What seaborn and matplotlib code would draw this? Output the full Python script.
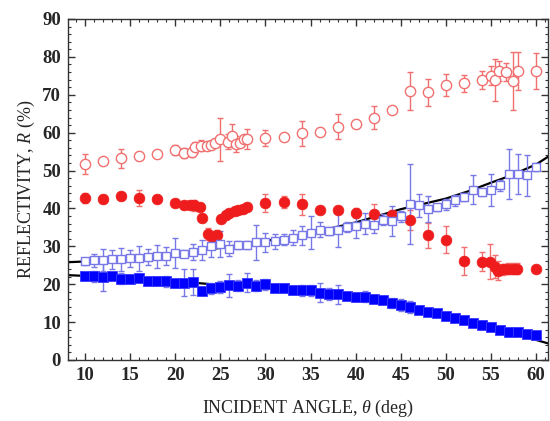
import numpy as np
import pandas as pd
import matplotlib
matplotlib.use("Agg")
import matplotlib.pyplot as plt
from matplotlib.ticker import MultipleLocator
import seaborn as sns

# ---------------- data ----------------
ro_x = [10, 12, 14, 16, 18, 20, 21, 21.8, 22.2, 22.9, 23.5, 24, 24.4, 25, 25.8, 26.3, 26.7, 27.2, 27.6, 28,
        30, 32, 34, 36, 38, 40, 42, 44, 46, 48, 50, 52, 54, 55, 55.4, 55.9, 56.7, 57.4, 58, 60]
ro_y = [51.8, 52.6, 53.2, 53.8, 54.4, 55.4, 54.6, 54.8, 56.1, 56.6, 56.6, 56.8, 57.4, 58.3, 57.6, 59.2, 57.0, 57.4, 58.3, 58.3,
        58.6, 58.9, 59.8, 60.3, 61.6, 62.4, 64.0, 66.1, 70.9, 70.6, 72.6, 73.0, 73.9, 75.0, 73.9, 76.3, 76.1, 73.7, 76.3, 76.3]
ro_e = [2.6, 0.8, 2.4, 1.0, 0.8, 1.3, 1.3, 1.3, 1.5, 1.5, 1.0, 1.0, 1.0, 5.7, 2.0, 3.0, 2.0, 1.0, 1.0, 2.6,
        2.2, 0.8, 3.4, 0.8, 3.4, 1.0, 3.0, 0.8, 5.0, 3.6, 3.0, 2.3, 2.3, 2.5, 5.6, 2.7, 2.4, 7.7, 5.0, 4.7]

rf_x = [10, 12, 14, 16, 18, 20, 21, 21.6, 22.1, 22.7, 23, 23.6, 24.1, 24.6, 25.1, 25.6, 26, 26.6, 27, 27.5, 28,
        30, 32, 34, 36, 38, 40, 42, 44, 46, 48, 50, 52, 54, 54.9, 55.4, 55.8, 56.3, 56.9, 57.4, 57.9, 60]
rf_y = [42.8, 42.5, 43.2, 42.8, 42.4, 41.5, 40.8, 41.0, 40.8, 40.5, 37.5, 33.3, 32.5, 32.9, 37.3, 38.2, 38.8, 39.3, 39.7, 39.9, 40.5,
        41.4, 41.7, 41.1, 39.7, 39.7, 38.9, 38.6, 38.2, 37.0, 32.9, 31.8, 26.1, 25.9, 25.9, 24.6, 23.5, 23.9, 24.1, 24.1, 24.1, 24.1]
rf_e = [1.3, 1.0, 0.5, 2.1, 0.5, 0.5, 1.0, 1.0, 1.5, 1.0, 1.0, 1.5, 1.5, 1.5, 1.0, 1.0, 1.0, 1.0, 1.0, 1.0, 1.0,
        2.4, 1.5, 2.8, 0.5, 0.5, 1.3, 2.5, 1.3, 2.6, 3.3, 3.5, 3.7, 2.5, 4.6, 3.0, 2.5, 1.5, 1.5, 1.5, 1.5, 0.5]

angles = list(range(10, 61))
bo_y = [26.0, 26.3, 26.5, 26.6, 26.6, 26.8, 26.9, 27.2, 27.4, 27.4, 28.2, 28.1, 28.5, 29.1, 30.2, 30.6, 29.4, 30.3, 30.3, 31.1,
        31.1, 31.3, 31.8, 32.3, 32.9, 33.6, 34.4, 34.0, 34.4, 35.1, 35.3, 36.0, 35.5, 37.0, 36.6, 37.9, 41.1, 40.8, 39.9, 40.3,
        41.1, 42.1, 43.0, 44.9, 44.3, 44.9, 46.1, 49.1, 49.1, 48.7, 50.9]
bo_e = [1.0, 1.8, 2.9, 2.5, 3.0, 2.3, 3.3, 2.0, 3.0, 2.3, 4.0, 1.0, 2.0, 2.6, 3.0, 3.5, 2.0, 1.0, 1.0, 4.6,
        2.5, 2.0, 1.5, 2.0, 2.5, 4.4, 2.0, 1.0, 4.5, 1.3, 3.0, 2.7, 2.0, 1.5, 4.0, 1.5, 10.6, 3.0, 3.5, 1.0,
        1.5, 1.5, 1.0, 3.8, 1.0, 4.3, 1.5, 6.5, 5.3, 5.3, 1.0]

bf_y = [22.1, 22.1, 21.9, 22.1, 21.5, 21.5, 21.7, 20.9, 20.9, 20.8, 20.2, 20.4, 20.6, 18.2, 18.9, 19.3, 19.7, 19.6, 20.4, 19.6,
        20.0, 19.1, 19.1, 18.4, 18.4, 18.4, 17.8, 17.4, 17.4, 16.9, 16.7, 16.7, 16.1, 15.8, 15.1, 14.5, 14.0, 13.3, 12.7, 12.3,
        11.7, 11.1, 10.5, 9.8, 9.2, 8.6, 7.9, 7.3, 7.3, 6.8, 6.6]
bf_e = [0.8, 1.5, 3.7, 1.0, 1.5, 1.0, 1.0, 1.0, 1.0, 1.5, 1.0, 3.5, 3.5, 1.0, 1.5, 1.5, 3.0, 1.5, 2.5, 1.5,
        1.5, 1.0, 1.0, 1.0, 1.5, 1.5, 2.5, 1.5, 2.5, 1.0, 1.0, 1.5, 1.0, 1.0, 1.3, 1.5, 1.5, 0.8, 0.6, 0.6,
        0.6, 0.6, 0.5, 0.5, 0.5, 0.5, 0.5, 0.5, 0.5, 0.5, 0.5]

fit_x = [8, 10, 15, 20, 25, 30, 35, 40, 45, 50, 52.7, 55, 57, 60, 61.3]
fit_up = [25.8, 26.0, 26.6, 27.8, 29.6, 31.4, 33.5, 36.3, 39.8, 42.6, 44.7, 46.8, 48.5, 51.6, 53.6]
fit_lo = [22.4, 22.2, 21.6, 20.8, 19.8, 19.0, 18.0, 16.6, 14.6, 11.9, 10.2, 8.7, 7.1, 5.3, 4.4]

x_ticks = [10, 15, 20, 25, 30, 35, 40, 45, 50, 55, 60]
y_ticks = [0, 10, 20, 30, 40, 50, 60, 70, 80, 90]

# ---------------- style ----------------
sns.set_theme(style="ticks")
plt.rcParams['font.family'] = ['Liberation Serif', 'DejaVu Serif']
plt.rcParams['mathtext.fontset'] = 'custom'
plt.rcParams['mathtext.rm'] = 'Liberation Serif'
plt.rcParams['mathtext.it'] = 'Liberation Serif:italic'
plt.rcParams['xtick.direction'] = 'in'
plt.rcParams['ytick.direction'] = 'in'

RED = "#ee1c1c"
RED_L = "#f07070"
BLUE = "#0000ff"
BLUE_L = "#7878e6"

fig = plt.figure(figsize=(5.5, 4.21), dpi=100)
ax = fig.add_axes([0.1236, 0.1449, 0.8724, 0.81])

fits = pd.DataFrame({"x": fit_x, "up": fit_up, "lo": fit_lo})
sns.lineplot(data=fits, x="x", y="up", ax=ax, color="black", lw=1.6, zorder=2)
sns.lineplot(data=fits, x="x", y="lo", ax=ax, color="black", lw=1.6, zorder=2)

# error bars
ax.errorbar(ro_x, ro_y, yerr=ro_e, fmt='none', ecolor=RED_L, elinewidth=1.0, capsize=2.5, capthick=1.0, zorder=3)
ax.errorbar(rf_x, rf_y, yerr=rf_e, fmt='none', ecolor=RED_L, elinewidth=1.0, capsize=2.5, capthick=1.0, zorder=3)
ax.errorbar(angles, bo_y, yerr=bo_e, fmt='none', ecolor=BLUE_L, elinewidth=1.0, capsize=2.5, capthick=1.0, zorder=3)
ax.errorbar(angles, bf_y, yerr=bf_e, fmt='none', ecolor=BLUE_L, elinewidth=1.0, capsize=2.5, capthick=1.0, zorder=3)

# markers
sns.scatterplot(x=ro_x, y=ro_y, ax=ax, marker='o', s=55, facecolor='white', edgecolor=RED_L, linewidth=1.0, zorder=4)
sns.scatterplot(x=rf_x, y=rf_y, ax=ax, marker='o', s=60, color=RED, edgecolor=RED, linewidth=0.5, zorder=4)
sns.scatterplot(x=angles, y=bo_y, ax=ax, marker='s', s=40, facecolor='white', edgecolor=BLUE_L, linewidth=1.0, zorder=4)
sns.scatterplot(x=angles, y=bf_y, ax=ax, marker='s', s=42, color=BLUE, edgecolor="#3a3aff", linewidth=0.6, zorder=4)

ax.set_xlim(8.1, 61.3)
ax.set_ylim(0, 90)
ax.set_xticks(x_ticks)
ax.set_yticks(y_ticks)
ax.xaxis.set_minor_locator(MultipleLocator(1))
ax.yaxis.set_minor_locator(MultipleLocator(2))
ax.tick_params(which='both', top=True, right=True, direction='in', color='#333333')
ax.tick_params(which='major', length=5, width=1.0, labelsize=13.5, pad=5)
ax.tick_params(which='minor', length=2.5, width=0.8)
for lab in ax.get_xticklabels() + ax.get_yticklabels():
    lab.set_fontweight('bold')
for sp in ax.spines.values():
    sp.set_linewidth(1.0)
    sp.set_color('#333333')

ax.set_xlabel(r"INCIDENT ANGLE, $\it{\theta}$ (deg)", fontsize=13, labelpad=10)
ax.set_ylabel(r"REFLECTIVITY, $\it{R}$ (%)", fontsize=13, labelpad=4)

fig.savefig("out.png", dpi=100)
